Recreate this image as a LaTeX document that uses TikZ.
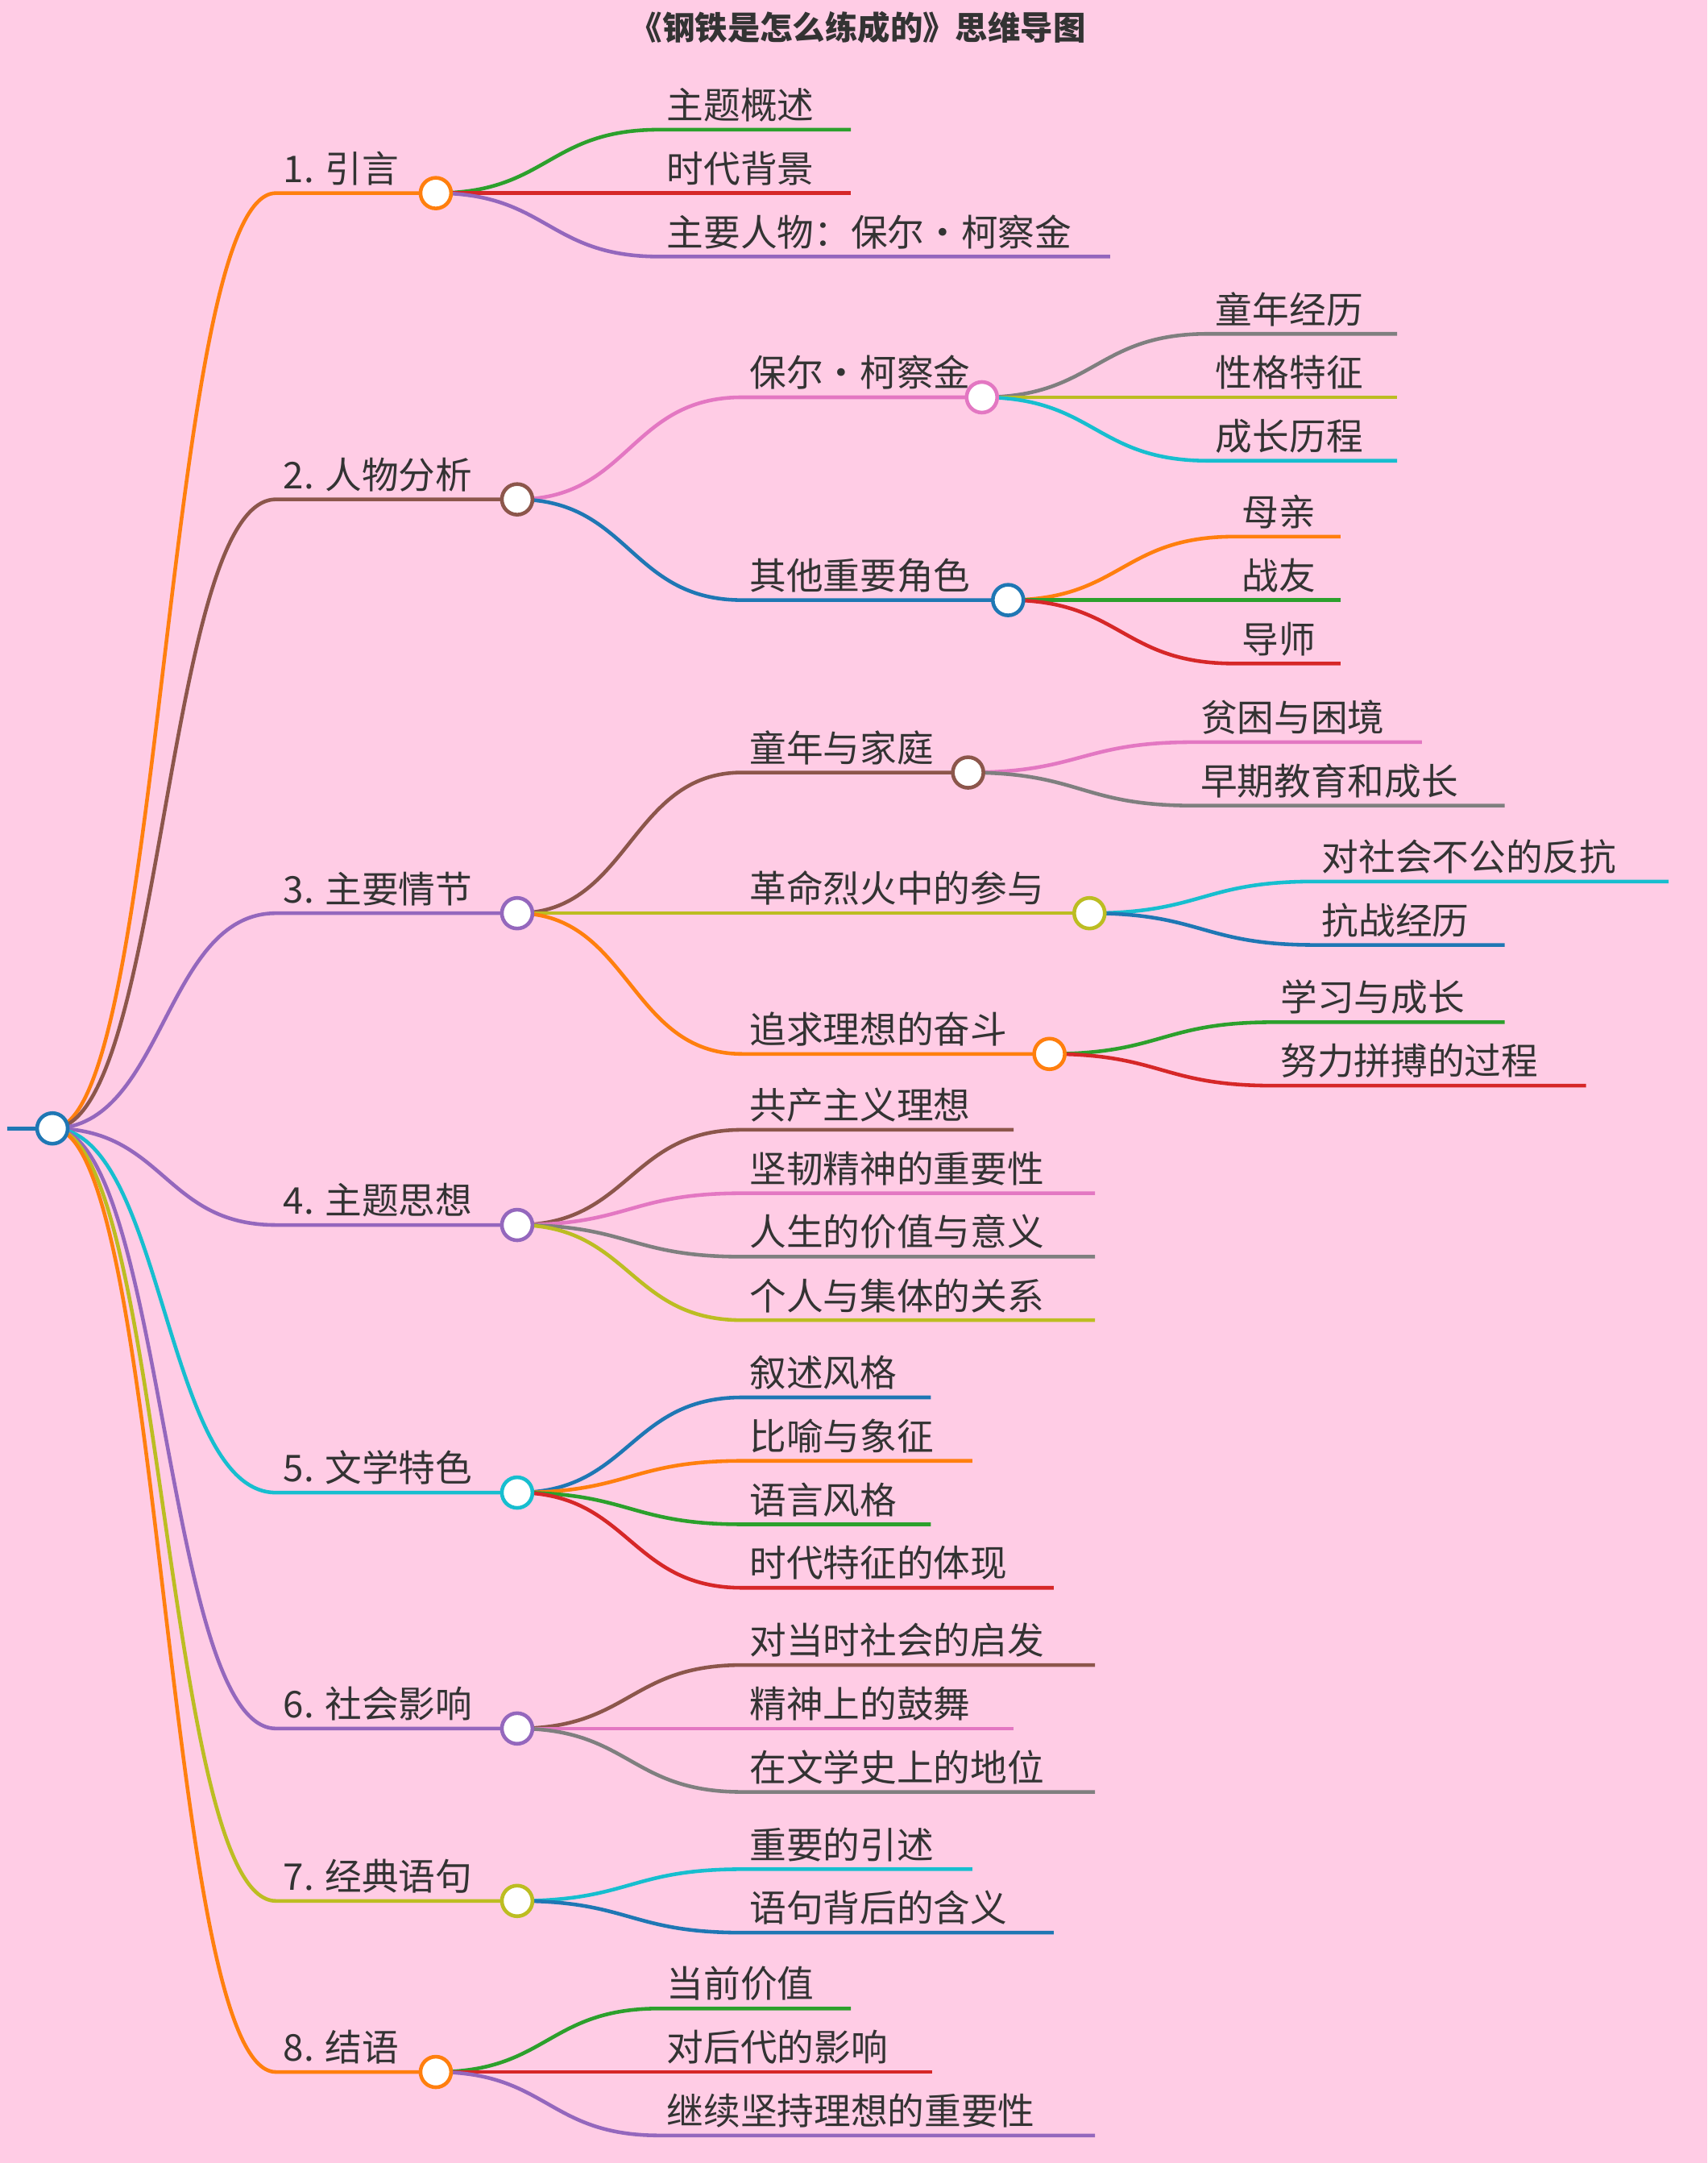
\documentclass[tikz,border=0pt]{standalone}
\usepackage{fontspec}
\setmainfont{Noto Sans CJK SC}
\usetikzlibrary{calc,positioning}

\definecolor{bgpink}{HTML}{FFCCE5}
\definecolor{txt}{HTML}{333333}
\definecolor{corange}{HTML}{FF7F0E}
\definecolor{cbrown}{HTML}{8C564B}
\definecolor{cpurple}{HTML}{9467BD}
\definecolor{cpink}{HTML}{E377C2}
\definecolor{cblue}{HTML}{1F77B4}
\definecolor{cgreen}{HTML}{2CA02C}
\definecolor{cred}{HTML}{D62728}
\definecolor{cgray}{HTML}{7F7F7F}
\definecolor{colive}{HTML}{BCBD22}
\definecolor{ccyan}{HTML}{17BECF}

\tikzset{
  link/.style={line width=1.3pt},
  dot/.style={circle, draw=#1, fill=white, line width=1.3pt, minimum size=0.38cm, inner sep=0pt},
  label/.style={anchor=south west, inner sep=2.5pt, text=txt, font=\fontsize{13}{15}\selectfont}
}

% #1 name, #2 parent, #3 x start, #4 x end, #5 y, #6 colour, #7 text
\newcommand{\leaf}[7]{%
  \coordinate (#1) at (#3,#5);
  \coordinate (#1e) at (#4,#5);
  \draw[link,#6] let \p1=(#2), \p2=(#1) in
    (#2) .. controls ({0.5*\x1+0.5*\x2},\y1) and ({0.5*\x1+0.5*\x2},\y2) .. (#1) -- (#1e);
  \node[label] (#1t) at (#1) {#7};
}

\begin{document}
\begin{tikzpicture}[x=0.017116cm, y=-0.017116cm]
\fill[bgpink] (0,0) rectangle (1238,1568);
\useasboundingbox (0,0) rectangle (1238,1568);

\node[text=txt, font=\fontsize{11.5}{13}\selectfont\bfseries] (title) at (622,20) {《钢铁是怎么练成的》思维导图};

% root
\coordinate (root) at (38,818);
\coordinate (rootin) at (5,818);
\draw[link,cblue] (rootin) -- (root);

% level 1
\leaf{intro}{root}{200}{316}{140}{corange}{1. 引言}
\leaf{chars}{root}{200}{375}{362}{cbrown}{2. 人物分析}
\leaf{plot}{root}{200}{375}{662}{cpurple}{3. 主要情节}
\leaf{theme}{root}{200}{375}{888}{cpurple}{4. 主题思想}
\leaf{style}{root}{200}{375}{1082}{ccyan}{5. 文学特色}
\leaf{impact}{root}{200}{375}{1253}{cpurple}{6. 社会影响}
\leaf{quote}{root}{200}{375}{1378}{colive}{7. 经典语句}
\leaf{concl}{root}{200}{316}{1502}{corange}{8. 结语}

% 1
\leaf{introA}{introe}{478}{617}{94}{cgreen}{主题概述}
\leaf{introB}{introe}{478}{617}{140}{cred}{时代背景}
\leaf{introC}{introe}{478}{805}{186}{cpurple}{主要人物：保尔·柯察金}

% 2
\leaf{paul}{charse}{538}{712}{288}{cpink}{保尔·柯察金}
\leaf{others}{charse}{538}{731}{435}{cblue}{其他重要角色}
\leaf{paulA}{paule}{876}{1013}{242}{cgray}{童年经历}
\leaf{paulB}{paule}{876}{1013}{288}{colive}{性格特征}
\leaf{paulC}{paule}{876}{1013}{334}{ccyan}{成长历程}
\leaf{othA}{otherse}{895}{972}{389}{corange}{母亲}
\leaf{othB}{otherse}{895}{972}{435}{cgreen}{战友}
\leaf{othC}{otherse}{895}{972}{481}{cred}{导师}

% 3
\leaf{child}{plote}{538}{702}{560}{cbrown}{童年与家庭}
\leaf{revo}{plote}{538}{790}{662}{colive}{革命烈火中的参与}
\leaf{ideal}{plote}{538}{761}{764}{corange}{追求理想的奋斗}
\leaf{childA}{childe}{865}{1031}{538}{cpink}{贫困与困境}
\leaf{childB}{childe}{865}{1091}{584}{cgray}{早期教育和成长}
\leaf{revoA}{revoe}{953}{1210}{639}{ccyan}{对社会不公的反抗}
\leaf{revoB}{revoe}{953}{1091}{685}{cblue}{抗战经历}
\leaf{idealA}{ideale}{923}{1091}{741}{cgreen}{学习与成长}
\leaf{idealB}{ideale}{923}{1150}{787}{cred}{努力拼搏的过程}

% 4
\leaf{themeA}{themee}{538}{735}{819}{cbrown}{共产主义理想}
\leaf{themeB}{themee}{538}{794}{865}{cpink}{坚韧精神的重要性}
\leaf{themeC}{themee}{538}{794}{911}{cgray}{人生的价值与意义}
\leaf{themeD}{themee}{538}{794}{957}{colive}{个人与集体的关系}

% 5
\leaf{styleA}{stylee}{538}{675}{1013}{cblue}{叙述风格}
\leaf{styleB}{stylee}{538}{705}{1059}{corange}{比喻与象征}
\leaf{styleC}{stylee}{538}{675}{1105}{cgreen}{语言风格}
\leaf{styleD}{stylee}{538}{764}{1151}{cred}{时代特征的体现}

% 6
\leaf{impA}{impacte}{538}{794}{1207}{cbrown}{对当时社会的启发}
\leaf{impB}{impacte}{538}{735}{1253}{cpink}{精神上的鼓舞}
\leaf{impC}{impacte}{538}{794}{1299}{cgray}{在文学史上的地位}

% 7
\leaf{quoteA}{quotee}{538}{705}{1355}{ccyan}{重要的引述}
\leaf{quoteB}{quotee}{538}{764}{1401}{cblue}{语句背后的含义}

% 8
\leaf{conclA}{concle}{478}{617}{1456}{cgreen}{当前价值}
\leaf{conclB}{concle}{478}{676}{1502}{cred}{对后代的影响}
\leaf{conclC}{concle}{478}{794}{1548}{cpurple}{继续坚持理想的重要性}

% circles
\node[dot=cblue] (rootdot) at (root) {};
\node[dot=corange] (introdot) at (introe) {};
\node[dot=cbrown] (charsdot) at (charse) {};
\node[dot=cpurple] (plotdot) at (plote) {};
\node[dot=cpurple] (themedot) at (themee) {};
\node[dot=ccyan] (styledot) at (stylee) {};
\node[dot=cpurple] (impactdot) at (impacte) {};
\node[dot=colive] (quotedot) at (quotee) {};
\node[dot=corange] (concldot) at (concle) {};
\node[dot=cpink] (pauldot) at (paule) {};
\node[dot=cblue] (othersdot) at (otherse) {};
\node[dot=cbrown] (childdot) at (childe) {};
\node[dot=colive] (revodot) at (revoe) {};
\node[dot=corange] (idealdot) at (ideale) {};

\end{tikzpicture}
\end{document}
